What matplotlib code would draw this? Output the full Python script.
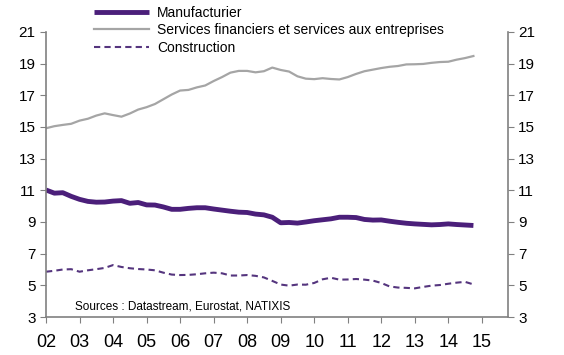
import numpy as np
import matplotlib
matplotlib.use("Agg")
import matplotlib.pyplot as plt

plt.rcParams["font.family"] = ["Liberation Sans", "DejaVu Sans"]

# -----------------------------
# Data (quarterly)
# -----------------------------

years = np.arange(2002, 2015, 0.25)

manufacturier = [
    11.02, 10.82, 10.85, 10.62,
    10.43, 10.30, 10.25, 10.26,
    10.32, 10.35, 10.18, 10.23,
    10.08, 10.07, 9.95, 9.80,
    9.80, 9.86, 9.90, 9.90,
    9.82, 9.75, 9.68, 9.62,
    9.60, 9.50, 9.45, 9.30,
    8.95, 8.97, 8.93, 9.00,
    9.08, 9.14, 9.20, 9.30,
    9.30, 9.28, 9.16, 9.12,
    9.13, 9.05, 8.98, 8.92,
    8.88, 8.85, 8.82, 8.84,
    8.88, 8.84, 8.81, 8.78,
]

services = [
    14.92, 15.05, 15.13, 15.20,
    15.40, 15.52, 15.72, 15.86,
    15.75, 15.65, 15.85, 16.10,
    16.25, 16.45, 16.75, 17.05,
    17.30, 17.34, 17.50, 17.62,
    17.90, 18.15, 18.43, 18.54,
    18.54, 18.45, 18.52, 18.75,
    18.60, 18.50, 18.20, 18.05,
    18.02, 18.08, 18.03, 18.00,
    18.15, 18.35, 18.52, 18.62,
    18.72, 18.80, 18.85, 18.95,
    18.96, 18.98, 19.05, 19.10,
    19.12, 19.25, 19.35, 19.48,
]

construction = [
    5.86, 5.92, 6.00, 6.02,
    5.86, 5.95, 6.02, 6.10,
    6.28, 6.16, 6.08, 6.03,
    6.00, 5.95, 5.80, 5.68,
    5.65, 5.66, 5.70, 5.76,
    5.80, 5.76, 5.62, 5.62,
    5.65, 5.60, 5.50, 5.28,
    5.05, 4.98, 5.05, 5.04,
    5.15, 5.38, 5.48, 5.36,
    5.37, 5.40, 5.36, 5.30,
    5.15, 4.93, 4.86, 4.84,
    4.81, 4.90, 4.98, 5.02,
    5.10, 5.17, 5.22, 5.06,
]

x_ticks = list(range(2002, 2016))
x_labels = ["%02d" % (y % 100) for y in x_ticks]
y_ticks = list(range(3, 22, 2))

# -----------------------------
# Plot
# -----------------------------

fig = plt.figure(figsize=(5.64, 3.55), dpi=100)
ax = fig.add_axes([0.0816, 0.107, 0.819, 0.803])

ax.plot(years, manufacturier, color="#4b1f7a", linewidth=3.5,
        label="Manufacturier", solid_capstyle="butt")
ax.plot(years, services, color="#a5a5a5", linewidth=1.6,
        label="Services financiers et services aux entreprises")
ax.plot(years, construction, color="#55357e", linewidth=1.5,
        linestyle=(0, (3, 2)), label="Construction")

ax.set_xlim(2002, 2015.78)
ax.set_ylim(3, 21)
ax.set_xticks(x_ticks)
ax.set_xticklabels(x_labels, fontsize=13)
ax.set_yticks(y_ticks)

ax.tick_params(axis="y", labelsize=11, direction="out", length=4,
               color="#808080", left=True, right=True,
               labelleft=True, labelright=True)
ax.tick_params(axis="x", direction="out", length=4, color="#808080", pad=8)

ax.spines["top"].set_visible(False)
for side in ["left", "right", "bottom"]:
    ax.spines[side].set_color("#808080")
    ax.spines[side].set_linewidth(1.2)

ax.text(2002.85, 3.45, "Sources : Datastream, Eurostat, NATIXIS", fontsize=8.5)

ax.legend(loc="upper left", bbox_to_anchor=(91 / 564, 1 - 3 / 355),
          bbox_transform=fig.transFigure, frameon=False, fontsize=10,
          handlelength=4, handletextpad=0.55, labelspacing=0.25,
          borderpad=0.2, borderaxespad=0)

fig.savefig("out.png", dpi=100)
